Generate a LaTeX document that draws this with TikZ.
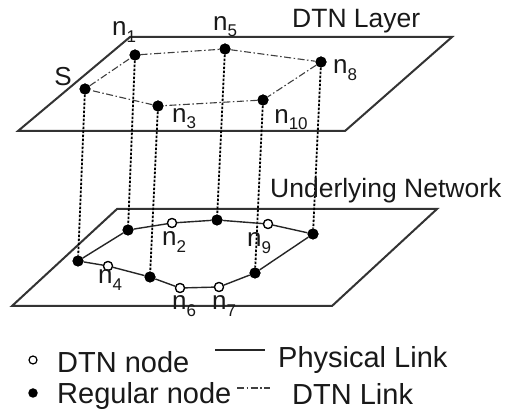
\documentclass[tikz,border=0pt]{standalone}
\usepackage{fontspec}
\setmainfont{Liberation Sans}
\newcommand\mysub[1]{\raisebox{-0.45ex}{\fontsize{17}{17}\selectfont #1}}
\begin{document}
\begin{tikzpicture}[x=1pt,y=-1pt,
  plane/.style={draw=black!80,line width=2pt,line join=miter},
  dtnlink/.style={draw=black!75,line width=1.1pt,dash pattern=on 7pt off 2.5pt on 1.5pt off 2.5pt},
  vlink/.style={draw=black,line width=1.8pt,dash pattern=on 2.5pt off 1.5pt},
  phys/.style={draw=black!85,line width=1.4pt},
  reg/.style={circle,fill=black,inner sep=0pt,minimum size=11pt},
  dtn/.style={circle,draw=black,fill=white,line width=1.2pt,inner sep=0pt,minimum size=9pt},
  lbl/.style={font=\fontsize{26}{26}\selectfont,inner sep=0pt,text=black!90},
  big/.style={font=\fontsize{26.5}{26}\selectfont,inner sep=0pt,anchor=base west,text=black!90},
  leg/.style={font=\fontsize{29}{29}\selectfont,inner sep=0pt,anchor=base west,text=black!90}]
\useasboundingbox (0,0) rectangle (507,414);
\fill[white] (0,0) rectangle (507,414);

% planes
\coordinate (ta) at (130,37); \coordinate (tb) at (452,37);
\coordinate (tc) at (345,131); \coordinate (td) at (18,131);
\draw[plane] (ta) -- (tb) -- (tc) -- (td) -- cycle;
\coordinate (ba) at (117,209); \coordinate (bb) at (437,209);
\coordinate (bc) at (332,306); \coordinate (bd) at (12,306);
\draw[plane] (ba) -- (bb) -- (bc) -- (bd) -- cycle;

% top nodes
\node[reg] (S) at (85,89) {};
\node[reg] (n1) at (135,55) {};
\node[reg] (n5) at (225,49) {};
\node[reg] (n8) at (321,62) {};
\node[reg] (n10) at (263,100) {};
\node[reg] (n3) at (158,106) {};

% bottom nodes
\node[reg] (bS) at (78,261) {};
\node[reg] (bn1) at (128,230) {};
\node[dtn] (bn2) at (172,223) {};
\node[reg] (bn5) at (217,220) {};
\node[dtn] (bn9) at (268,224) {};
\node[reg] (bn8) at (313,234) {};
\node[reg] (bn10) at (255,273) {};
\node[dtn] (bn7) at (219,287) {};
\node[dtn] (bn6) at (180,288) {};
\node[reg] (bn3) at (150,277) {};
\node[dtn] (bn4) at (108,266) {};

% DTN links
\draw[dtnlink] (S) -- (n1) -- (n5) -- (n8) -- (n10) -- (n3) -- (S);

% vertical links
\draw[vlink] (S) -- (bS);
\draw[vlink] (n1) -- (bn1);
\draw[vlink] (n3) -- (bn3);
\draw[vlink] (n5) -- (bn5);
\draw[vlink] (n10) -- (bn10);
\draw[vlink] (n8) -- (bn8);

% physical links
\draw[phys] (bS) -- (bn1) -- (bn2) -- (bn5) -- (bn9) -- (bn8) -- (bn10) -- (bn7) -- (bn6) -- (bn3) -- (bn4) -- (bS);

% redraw nodes on top
\foreach \n in {S,n1,n5,n8,n10,n3,bS,bn1,bn5,bn8,bn10,bn3}{\node[reg] at (\n) {};}
\foreach \n in {bn2,bn9,bn7,bn6,bn4}{\node[dtn] at (\n) {};}

% labels
\node[lbl] (lS) at (63,77) {S};
\node[lbl] (l1) at (124,32) {n\mysub{1}};
\node[lbl] (l5) at (225,27) {n\mysub{5}};
\node[lbl] (l8) at (345,70) {n\mysub{8}};
\node[lbl] (l10) at (291,120) {n\mysub{10}};
\node[lbl] (l3) at (184,119) {n\mysub{3}};
\node[lbl] (l2) at (174,242) {n\mysub{2}};
\node[lbl] (l4) at (110,280) {n\mysub{4}};
\node[lbl] (l6) at (184,306) {n\mysub{6}};
\node[lbl] (l7) at (224,306) {n\mysub{7}};
\node[lbl] (l9) at (259,243) {n\mysub{9}};

\node[big] (tl) at (292,28) {DTN Layer};
\node[big] (ul) at (270,198) {Underlying Network};

% legend
\node[dtn,minimum size=8pt] (lo) at (33,360) {};
\node[reg,minimum size=9.5pt] (lf) at (33,393) {};
\node[leg] (ltx1) at (57,373) {DTN node};
\node[leg] (ltx2) at (57,404) {Regular node};
\coordinate (p1) at (215,350); \coordinate (p2) at (265,350);
\draw[phys] (p1) -- (p2);
\coordinate (d1) at (237,388); \coordinate (d2) at (270,388);
\draw[dtnlink] (d1) -- (d2);
\node[leg] (ltx3) at (278,368) {Physical Link};
\node[leg] (ltx4) at (292,405) {DTN Link};
\end{tikzpicture}
\end{document}
